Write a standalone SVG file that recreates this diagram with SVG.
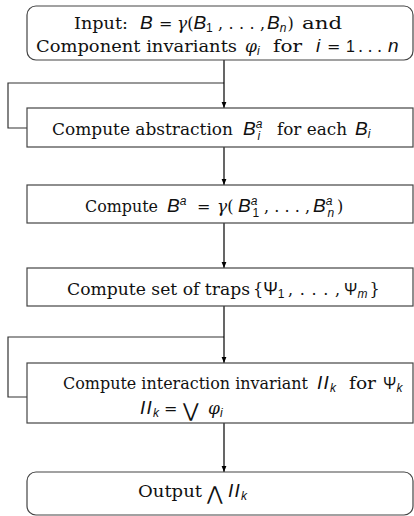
<svg xmlns="http://www.w3.org/2000/svg" width="414" height="516" viewBox="0 0 414 516">
<style>
.box{fill:#fff;stroke:#444;stroke-width:1.2}
.ln{fill:none;stroke:#333;stroke-width:1.2}
.ar{fill:none;stroke:#000;stroke-width:1.2;marker-end:url(#ah)}
text{font-family:"DejaVu Serif","Liberation Serif",serif;font-size:16px;fill:#111}
.m{font-family:"Liberation Sans","DejaVu Sans",sans-serif;font-style:italic;font-size:19px}
.g{font-family:"DejaVu Serif",serif;font-style:italic;font-size:17px}
.r{font-family:"DejaVu Serif",serif;font-style:normal;font-size:16px}
.mi{font-family:"Liberation Sans","DejaVu Sans",sans-serif;font-style:italic;font-size:19px}
.s{font-size:12px}
.u{font-family:"Liberation Sans","DejaVu Sans",sans-serif;font-style:normal}
.big{font-family:"DejaVu Sans",sans-serif;font-size:19px}
.ii{letter-spacing:1.2px}
</style>
<defs>
<marker id="ah" viewBox="0 0 10 10" refX="10" refY="5" markerWidth="6" markerHeight="6" orient="auto" markerUnits="userSpaceOnUse">
<path d="M0,1 L10,5 L0,9 z" fill="#000"/>
</marker>
</defs>
<g id="connectors">
<path class="ln" d="M27,128 H8 V83 H224"/>
<path class="ln" d="M27,397 H8 V337 H224"/>
<line class="ar" x1="224" y1="60" x2="224" y2="108"/>
<line class="ar" x1="224" y1="147" x2="224" y2="185"/>
<line class="ar" x1="224" y1="223" x2="224" y2="268"/>
<line class="ar" x1="224" y1="306" x2="224" y2="363"/>
<line class="ar" x1="224" y1="423" x2="224" y2="472"/>
</g>
<g id="input">
<rect class="box" x="27" y="6" width="386" height="54" rx="9"/>
<text x="74" y="29" textLength="54" lengthAdjust="spacingAndGlyphs">Input:</text>
<text class="m" x="140" y="29">B</text>
<text x="159" y="29">=</text>
<text class="g" x="177" y="29">γ<tspan class="r">(</tspan><tspan class="mi">B</tspan><tspan class="s u" dy="3">1</tspan></text>
<text x="218" y="29" textLength="47" lengthAdjust="spacing">, . . . ,</text>
<text class="m" x="267" y="29">B<tspan class="s" dy="3">n</tspan><tspan class="r" dy="-3" dx="1">)</tspan></text>
<text x="302" y="29" textLength="40" lengthAdjust="spacingAndGlyphs">and</text>
<text x="36" y="52" textLength="201" lengthAdjust="spacingAndGlyphs">Component invariants</text>
<text class="g" x="245" y="52">φ<tspan class="s m" dy="3">i</tspan></text>
<text x="273" y="52" textLength="29" lengthAdjust="spacingAndGlyphs">for</text>
<text class="m" x="316" y="52">i</text>
<text x="327" y="52">=</text>
<text class="u" x="346" y="52" font-size="17">1</text>
<text x="358" y="52" textLength="24" lengthAdjust="spacing">. . .</text>
<text class="m" x="388" y="52">n</text>
</g>
<g id="abstraction">
<rect class="box" x="27" y="108" width="386" height="39"/>
<text x="52" y="135" textLength="181" lengthAdjust="spacingAndGlyphs">Compute abstraction</text>
<text class="m" x="243" y="135">B<tspan class="s" dy="-7">a</tspan><tspan class="s" dx="-5" dy="12">i</tspan></text>
<text x="277" y="135" textLength="70" lengthAdjust="spacingAndGlyphs">for each</text>
<text class="m" x="355" y="135">B<tspan class="s" dy="3">i</tspan></text>
</g>
<g id="compose">
<rect class="box" x="27" y="185" width="386" height="38"/>
<text x="85" y="212" textLength="73" lengthAdjust="spacingAndGlyphs">Compute</text>
<text class="m" x="167" y="212">B<tspan class="s" dy="-7">a</tspan></text>
<text x="197" y="212">=</text>
<text class="g" x="217" y="212">γ<tspan class="r">(</tspan></text>
<text class="m" x="238" y="212">B<tspan class="s" dy="-7">a</tspan><tspan class="s u" dx="-5" dy="12">1</tspan></text>
<text x="264" y="212" textLength="46" lengthAdjust="spacing">, . . . ,</text>
<text class="m" x="313" y="212">B<tspan class="s" dy="-7">a</tspan><tspan class="s" dx="-5" dy="12">n</tspan><tspan class="r" dy="-5" dx="3">)</tspan></text>
</g>
<g id="traps">
<rect class="box" x="27" y="268" width="386" height="38"/>
<text x="67" y="295" textLength="183" lengthAdjust="spacingAndGlyphs">Compute set of traps</text>
<text x="253" y="295">{<tspan class="u" font-size="17.5">Ψ</tspan><tspan class="s u" dy="3">1</tspan></text>
<text x="288" y="295" textLength="52" lengthAdjust="spacing">, . . . ,</text>
<text class="u" x="344" y="295" font-size="17.5">Ψ<tspan class="s m" dy="3">m</tspan><tspan class="r" dy="-3" dx="2">}</tspan></text>
</g>
<g id="interaction">
<rect class="box" x="27" y="363" width="386" height="60"/>
<text x="63" y="389" textLength="245" lengthAdjust="spacingAndGlyphs">Compute interaction invariant</text>
<text class="m" x="317" y="389"><tspan class="ii">II</tspan><tspan class="s" dy="3">k</tspan></text>
<text x="349" y="389" textLength="27" lengthAdjust="spacingAndGlyphs">for</text>
<text class="u" x="383" y="389" font-size="17.5">Ψ<tspan class="s m" dy="3">k</tspan></text>
<text class="m" x="140" y="414"><tspan class="ii">II</tspan><tspan class="s" dy="3">k</tspan></text>
<text x="164" y="414">=</text>
<text class="big" x="183" y="417">⋁</text>
<text class="g" x="208" y="414">φ<tspan class="s m" dy="3">i</tspan></text>
</g>
<g id="output">
<rect class="box" x="27" y="472" width="386" height="43" rx="9"/>
<text x="138" y="497" textLength="64" lengthAdjust="spacingAndGlyphs">Output</text>
<text class="big" x="207" y="500">⋀</text>
<text class="m" x="228" y="497"><tspan class="ii">II</tspan><tspan class="s" dy="3">k</tspan></text>
</g>
</svg>
